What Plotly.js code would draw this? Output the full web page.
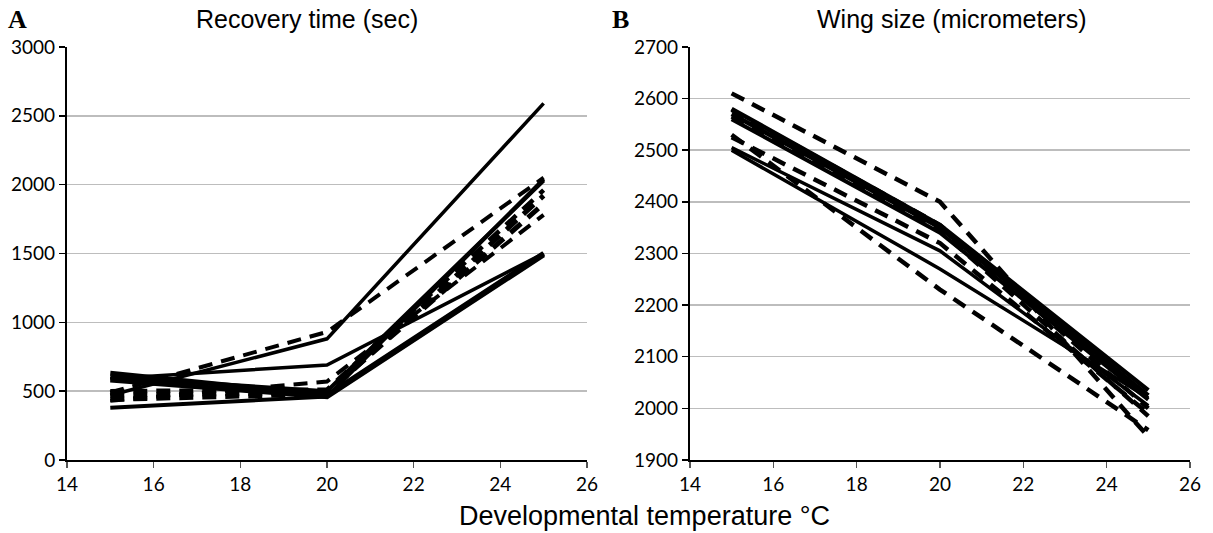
<!DOCTYPE html>
<html>
<head>
<meta charset="utf-8">
<script src="https://cdn.plot.ly/plotly-3.0.1.min.js"></script>
<style>html,body{margin:0;padding:0;background:#fff;}#chart{width:1213px;height:533px;}</style>
</head>
<body>
<div id="chart"></div>
<script>
// Developmental temperatures (°C)
const temps = [15, 20, 25];

// Panel A: recovery time (sec), solid lines
const recSolid1 = [470, 880, 2590];
const recSolid2 = [590, 690, 1500];
const recSolid3 = [630, 470, 1500];
const recSolid4 = [580, 460, 1490];
const recSolid5 = [380, 460, 2040];
const recSolid6 = [600, 500, 2030];
// Panel A: dashed lines
const recDash1 = [490, 930, 2050];
const recDash2 = [430, 570, 1780];
const recDash3 = [470, 490, 1860];
const recDash4 = [440, 480, 1920];
const recDash5 = [500, 510, 1960];

// Panel B: wing size (micrometers), solid lines
const wingSolid1 = [2580, 2355, 2035];
const wingSolid2 = [2570, 2350, 2025];
const wingSolid3 = [2560, 2340, 2017];
const wingSolid4 = [2505, 2305, 2005];
const wingSolid5 = [2500, 2270, 2020];
// Panel B: dashed lines
const wingDash1 = [2610, 2400, 1945];
const wingDash2 = [2525, 2320, 1990];
const wingDash3 = [2530, 2230, 1958];
const wingDash4 = [2578, 2355, 2000];
const wingDash5 = [2565, 2345, 1985];

const xTicks = [14, 16, 18, 20, 22, 24, 26];
const recTicks = [0, 500, 1000, 1500, 2000, 2500, 3000];
const wingTicks = [1900, 2000, 2100, 2200, 2300, 2400, 2500, 2600, 2700];

function tr(y, axis, dashed, w) {
  return {
    x: temps, y: y, xaxis: axis === 1 ? 'x' : 'x2', yaxis: axis === 1 ? 'y' : 'y2',
    mode: 'lines', showlegend: false, hoverinfo: 'skip',
    line: {color: '#000', width: w, dash: dashed ? '14px,9px' : 'solid'}
  };
}

const data = [
  tr(recSolid1, 1, false, 3.5), tr(recSolid2, 1, false, 3.5), tr(recSolid3, 1, false, 5),
  tr(recSolid4, 1, false, 5), tr(recSolid5, 1, false, 4), tr(recSolid6, 1, false, 4),
  tr(recDash1, 1, true, 4), tr(recDash2, 1, true, 4), tr(recDash3, 1, true, 5),
  tr(recDash4, 1, true, 5), tr(recDash5, 1, true, 4.5),
  tr(wingSolid1, 2, false, 4.5), tr(wingSolid2, 2, false, 4.5), tr(wingSolid3, 2, false, 4),
  tr(wingSolid4, 2, false, 3.5), tr(wingSolid5, 2, false, 3.5),
  tr(wingDash1, 2, true, 4.5), tr(wingDash2, 2, true, 4.5), tr(wingDash3, 2, true, 4.5),
  tr(wingDash4, 2, true, 4.5), tr(wingDash5, 2, true, 4.5)
];

const tickFont = {family: 'Lato, "Liberation Sans", sans-serif', size: 19, color: '#000'};
function xax(dom) {
  return {domain: dom, range: [14, 26], tickvals: xTicks, ticktext: xTicks.map(String),
    showgrid: false, zeroline: false, showline: true, linecolor: '#000', linewidth: 2,
    ticks: 'outside', ticklen: 6, tickwidth: 1.5, tickcolor: '#555', tickfont: tickFont, fixedrange: true};
}
function yax(range, vals, anchor) {
  return {domain: [0.137, 0.912], range: range, tickvals: vals, ticktext: vals.map(String),
    showgrid: true, gridcolor: '#bdbdbd', gridwidth: 1.5, zeroline: false, showline: true,
    linecolor: '#000', linewidth: 2, ticks: 'outside', ticklen: 6, tickwidth: 1.5, tickcolor: '#000',
    tickfont: tickFont, anchor: anchor, fixedrange: true};
}

const titleFont = {family: '"Liberation Sans", Arial, sans-serif', size: 25, color: '#000'};
const letterFont = {family: '"Liberation Serif", "Times New Roman", serif', size: 26, color: '#000'};

const layout = {
  width: 1213, height: 533,
  margin: {l: 0, r: 0, t: 0, b: 0},
  paper_bgcolor: '#fff', plot_bgcolor: '#fff',
  xaxis: Object.assign(xax([0.0552, 0.4839]), {anchor: 'y'}),
  yaxis: yax([0, 3000], recTicks, 'x'),
  xaxis2: Object.assign(xax([0.5688, 0.9810]), {anchor: 'y2'}),
  yaxis2: yax([1900, 2700], wingTicks, 'x2'),
  annotations: [
    {text: 'Recovery time (sec)', x: 307/1213, y: 1 - 19/533, xref: 'paper', yref: 'paper',
     showarrow: false, xanchor: 'center', yanchor: 'middle', font: titleFont},
    {text: 'Wing size (micrometers)', x: 951/1213, y: 1 - 19/533, xref: 'paper', yref: 'paper',
     showarrow: false, xanchor: 'center', yanchor: 'middle', font: titleFont},
    {text: '<b>A</b>', x: 6/1213, y: 1 - 19/533, xref: 'paper', yref: 'paper',
     showarrow: false, xanchor: 'left', yanchor: 'middle', font: letterFont},
    {text: '<b>B</b>', x: 610/1213, y: 1 - 19/533, xref: 'paper', yref: 'paper',
     showarrow: false, xanchor: 'left', yanchor: 'middle', font: letterFont},
    {text: 'Developmental temperature °C', x: 644/1213, y: 1 - 516/533, xref: 'paper', yref: 'paper',
     showarrow: false, xanchor: 'center', yanchor: 'middle',
     font: {family: '"Liberation Sans", Arial, sans-serif', size: 27, color: '#000'}}
  ]
};

Plotly.newPlot('chart', data, layout, {staticPlot: true, displayModeBar: false});
</script>
</body>
</html>
